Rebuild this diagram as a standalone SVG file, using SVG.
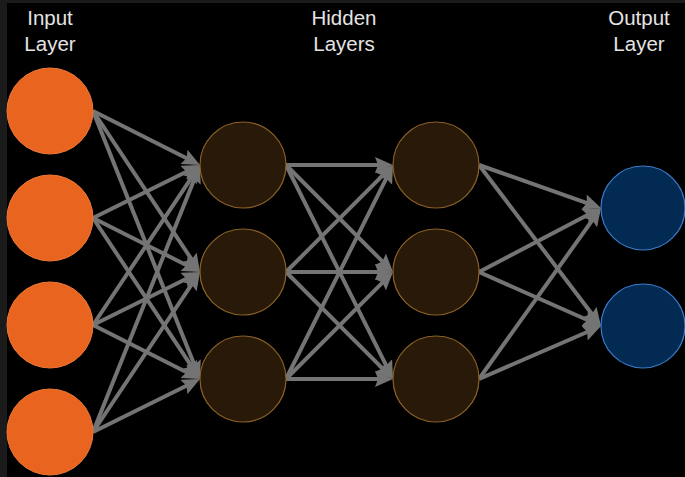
<svg xmlns="http://www.w3.org/2000/svg" width="685" height="477" viewBox="0 0 685 477">
<style>
.lbl{font-family:"Liberation Sans",Arial,sans-serif;font-size:20.5px;fill:#e4e4e4;text-anchor:middle}
.in{fill:#e8641f;stroke:#ee7a38;stroke-width:1}
.hid{fill:#291909;stroke:#8c6128;stroke-width:1.2}
.out{fill:#032a52;stroke:#3a7ccc;stroke-width:1.2}
.e{stroke:#747474;stroke-width:4;fill:none;marker-end:url(#ah)}
</style>
<defs>
<marker id="ah" markerUnits="userSpaceOnUse" viewBox="0 0 18 16" refX="13" refY="8" markerWidth="18" markerHeight="16" orient="auto">
<path d="M0,0 L18,8 L0,16 L3,8 z" fill="#747474"/>
</marker>
</defs>
<rect width="685" height="477" fill="#1b1b1b"/>
<rect x="7" y="3" width="678" height="474" fill="#000"/>
<g id="labels">
<text class="lbl" x="50" y="25">Input</text>
<text class="lbl" x="50" y="51">Layer</text>
<text class="lbl" x="344" y="25">Hidden</text>
<text class="lbl" x="344" y="51">Layers</text>
<text class="lbl" x="639" y="25">Output</text>
<text class="lbl" x="639" y="51">Layer</text>
</g>
<g id="connectors">
<line class="e" x1="93" y1="111" x2="195.54" y2="162.75"/>
<line class="e" x1="93" y1="111" x2="197.23" y2="267.84"/>
<line class="e" x1="93" y1="111" x2="198.15" y2="374.36"/>
<line class="e" x1="93" y1="218" x2="195.52" y2="167.22"/>
<line class="e" x1="93" y1="218" x2="195.54" y2="269.75"/>
<line class="e" x1="93" y1="218" x2="197.23" y2="374.84"/>
<line class="e" x1="93" y1="325" x2="197.22" y2="169.16"/>
<line class="e" x1="93" y1="325" x2="195.52" y2="274.22"/>
<line class="e" x1="93" y1="325" x2="195.54" y2="376.75"/>
<line class="e" x1="93" y1="432" x2="198.14" y2="169.64"/>
<line class="e" x1="93" y1="432" x2="197.22" y2="276.16"/>
<line class="e" x1="93" y1="432" x2="195.52" y2="381.22"/>
<line class="e" x1="286" y1="165" x2="388" y2="165"/>
<line class="e" x1="286" y1="165" x2="389.46" y2="268.46"/>
<line class="e" x1="286" y1="165" x2="390.76" y2="374.53"/>
<line class="e" x1="286" y1="272" x2="389.46" y2="168.54"/>
<line class="e" x1="286" y1="272" x2="388" y2="272"/>
<line class="e" x1="286" y1="272" x2="389.46" y2="375.46"/>
<line class="e" x1="286" y1="379" x2="390.76" y2="169.47"/>
<line class="e" x1="286" y1="379" x2="389.46" y2="275.54"/>
<line class="e" x1="286" y1="379" x2="388" y2="379"/>
<line class="e" x1="479" y1="165" x2="596.29" y2="206.34"/>
<line class="e" x1="479" y1="165" x2="597.98" y2="322.02"/>
<line class="e" x1="479" y1="272" x2="596.57" y2="210.32"/>
<line class="e" x1="479" y1="272" x2="596.43" y2="323.98"/>
<line class="e" x1="479" y1="379" x2="598.1" y2="212.07"/>
<line class="e" x1="479" y1="379" x2="596.41" y2="327.99"/>
</g>
<g id="input-1"><circle class="in" cx="50" cy="111" r="43"/></g>
<g id="input-2"><circle class="in" cx="50" cy="218" r="43"/></g>
<g id="input-3"><circle class="in" cx="50" cy="325" r="43"/></g>
<g id="input-4"><circle class="in" cx="50" cy="432" r="43"/></g>
<g id="hidden1-1"><circle class="hid" cx="243" cy="165" r="43"/></g>
<g id="hidden1-2"><circle class="hid" cx="243" cy="272" r="43"/></g>
<g id="hidden1-3"><circle class="hid" cx="243" cy="379" r="43"/></g>
<g id="hidden2-1"><circle class="hid" cx="436" cy="165" r="43"/></g>
<g id="hidden2-2"><circle class="hid" cx="436" cy="272" r="43"/></g>
<g id="hidden2-3"><circle class="hid" cx="436" cy="379" r="43"/></g>
<g id="output-1"><circle class="out" cx="643" cy="208" r="42"/></g>
<g id="output-2"><circle class="out" cx="643" cy="326" r="42"/></g>
</svg>
